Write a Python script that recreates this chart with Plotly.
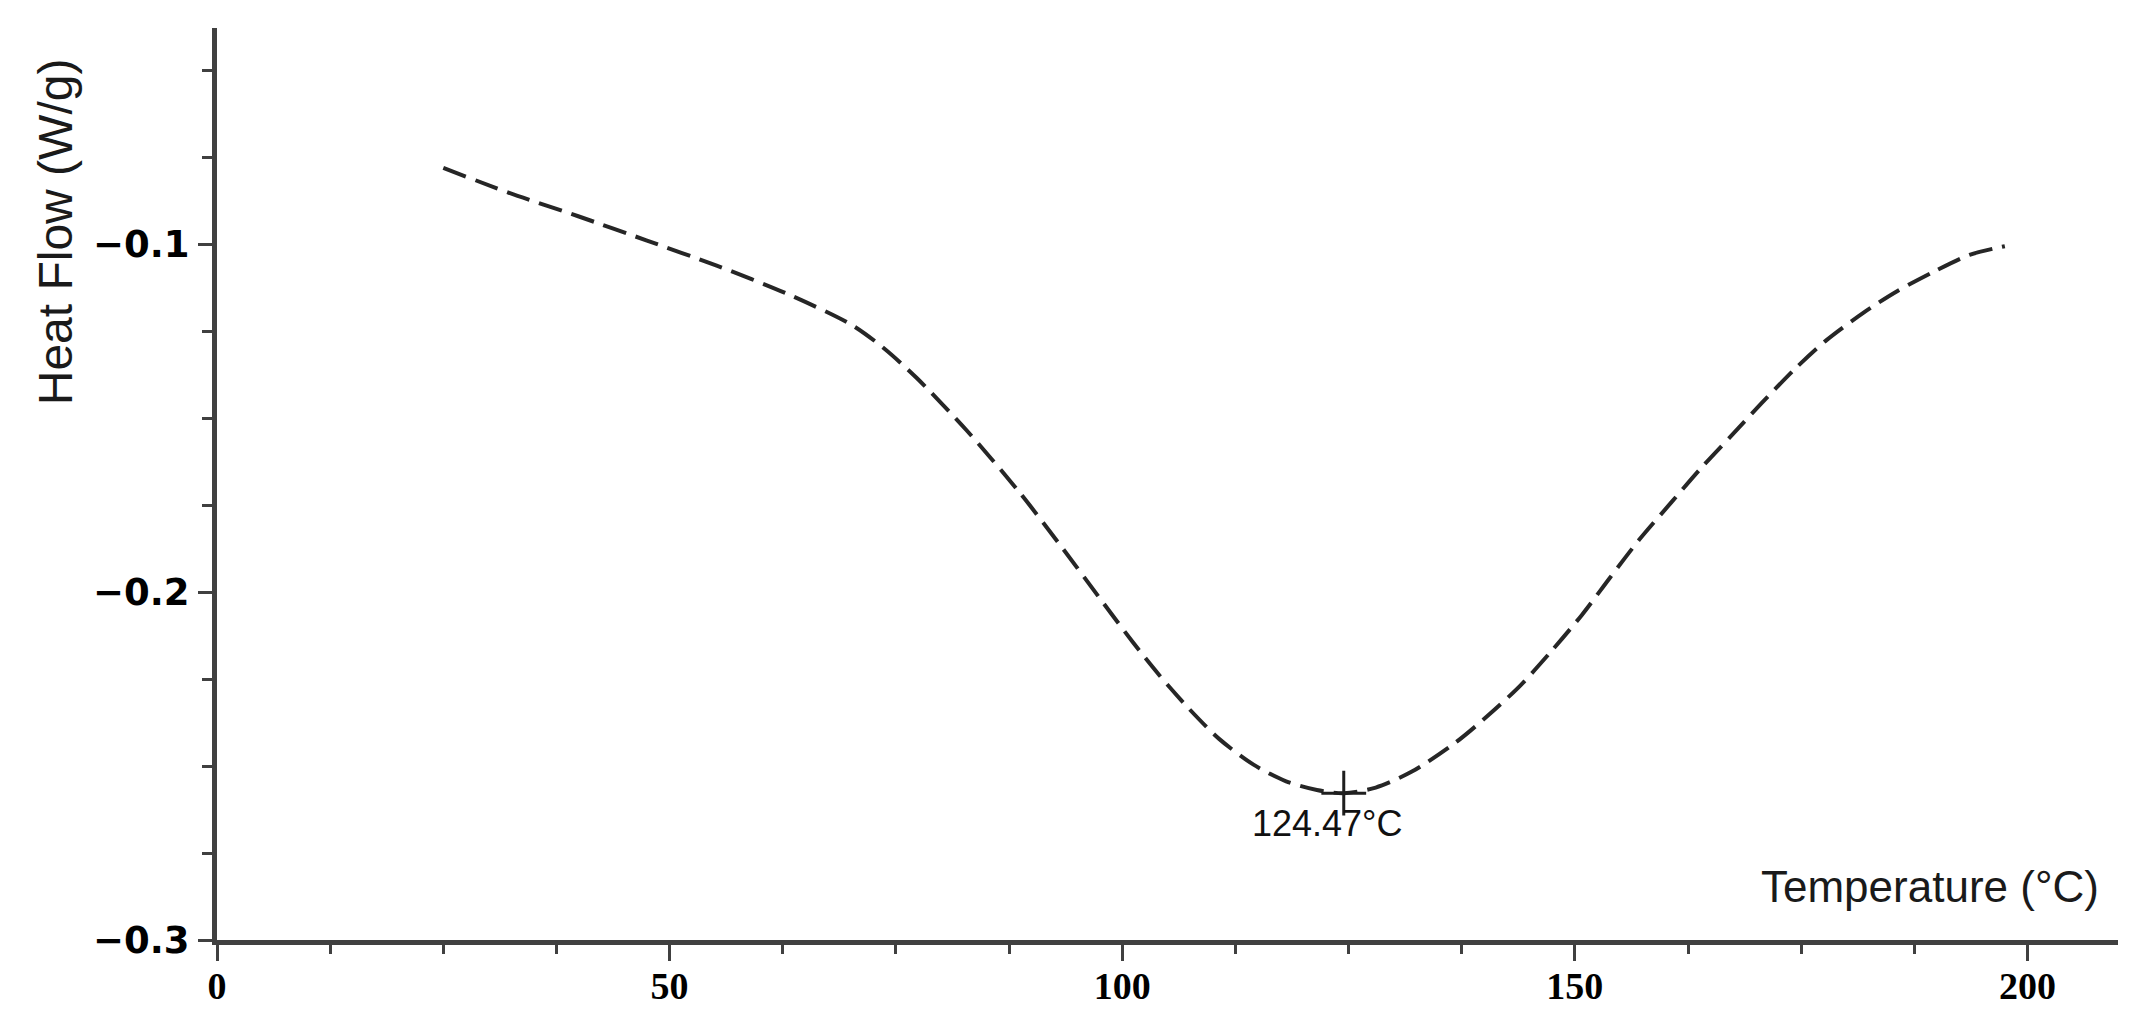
import plotly.graph_objects as go

# Data
temperature = [25.0, 32.2, 39.9, 47.5, 55.2, 62.9, 70.1, 73.7, 77.3, 82.8, 88.6,
               93.0, 97.9, 101.2, 104.1, 107.4, 110.7, 114.5, 118.1, 121.5, 124.47,
               128.0, 132.0, 136.8, 140.4, 144.0, 147.4, 150.8, 153.9, 157.1, 160.7,
               163.9, 167.5, 170.6, 174.3, 177.8, 181.9, 185.5, 189.6, 193.6, 197.5]
heat_flow = [-0.0781, -0.0852, -0.0920, -0.0990, -0.1062, -0.1142, -0.1232, -0.1300, -0.1385, -0.1535, -0.1712,
             -0.1860, -0.2031, -0.2145, -0.2239, -0.2336, -0.2422, -0.2496, -0.2544, -0.2569, -0.2578,
             -0.2562, -0.2516, -0.2433, -0.2355, -0.2268, -0.2170, -0.2065, -0.1958, -0.1850, -0.1741,
             -0.1645, -0.1545, -0.1458, -0.1359, -0.1276, -0.1197, -0.1137, -0.1080, -0.1031, -0.1006]

peak_temp = [124.47]
peak_flow = [-0.2578]
peak_label = "124.47°C"

x_title = "Temperature (°C)"
y_title = "Heat Flow (W/g)"

axis_color = "#404040"

fig = go.Figure()
fig.add_trace(go.Scatter(
    x=temperature, y=heat_flow, mode="lines",
    line=dict(color="#262626", width=4, dash="24px,10px", shape="spline", smoothing=0.8),
    showlegend=False, hoverinfo="skip",
))
fig.add_trace(go.Scatter(
    x=peak_temp, y=peak_flow, mode="markers",
    marker=dict(symbol="cross-thin", size=32, line=dict(color="#1f1f1f", width=3)),
    showlegend=False, hoverinfo="skip",
))

fig.update_layout(
    width=2136, height=1022,
    margin=dict(l=209, r=26, t=20, b=90, autoexpand=False),
    paper_bgcolor="white", plot_bgcolor="white",
    xaxis=dict(
        range=[0, 210], tick0=0, dtick=50, ticks="outside", ticklen=16, tickwidth=3,
        tickcolor=axis_color, showline=True, linewidth=5, linecolor=axis_color,
        showgrid=False, zeroline=False, automargin=False,
        tickfont=dict(family="Liberation Serif, Times New Roman, serif", size=38, color="black", weight="bold"),
        ticklabelstandoff=-8,
        minor=dict(dtick=12.5, tick0=0, ticks="outside", ticklen=9, tickwidth=3, tickcolor=axis_color, showgrid=False),
    ),
    yaxis=dict(
        range=[-0.3, -0.0379], tick0=-0.3, dtick=0.1, ticks="outside", ticklen=14, tickwidth=3,
        tickcolor=axis_color, showline=True, linewidth=5, linecolor=axis_color,
        showgrid=False, zeroline=False, tickformat=".1f", automargin=False,
        tickfont=dict(family="DejaVu Sans, Verdana, sans-serif", size=37, color="black", weight="bold"),
        ticklabelstandoff=1,
        minor=dict(dtick=0.025, tick0=-0.3, ticks="outside", ticklen=10, tickwidth=3, tickcolor=axis_color, showgrid=False),
    ),
    annotations=[
        dict(text=peak_label, xref="x", yref="y", x=peak_temp[0], y=peak_flow[0],
             xanchor="center", yanchor="middle", xshift=-16, yshift=-30, showarrow=False,
             font=dict(family="Liberation Sans, Arial, sans-serif", size=36, color="#111111")),
        dict(text=x_title, xref="paper", yref="paper", x=0.991, y=0.0587,
             xanchor="right", yanchor="middle", showarrow=False,
             font=dict(family="Liberation Sans, Arial, sans-serif", size=44, color="#1a1a1a")),
        dict(text=y_title, xref="paper", yref="paper", x=0, xshift=-162, y=0.776,
             xanchor="center", yanchor="middle", textangle=-90, showarrow=False,
             font=dict(family="Liberation Sans, Arial, sans-serif", size=48, color="#1a1a1a")),
    ],
)

fig.write_html("out.html")
